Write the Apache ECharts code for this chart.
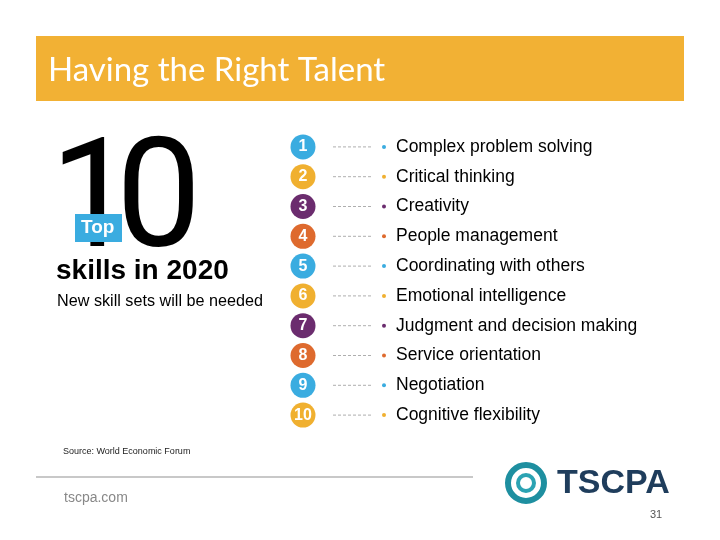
<!DOCTYPE html>
<html>
<head>
<meta charset="utf-8">
<script src="https://cdn.jsdelivr.net/npm/echarts@6/dist/echarts.min.js"></script>
<style>html,body{margin:0;padding:0;background:#fff}#main{width:720px;height:540px}</style>
</head>
<body>
<div id="main"></div>
<script>
const ranks = ['1', '2', '3', '4', '5', '6', '7', '8', '9', '10']
const skills = ['Complex problem solving', 'Critical thinking', 'Creativity', 'People management',
    'Coordinating with others', 'Emotional intelligence', 'Judgment and decision making',
    'Service orientation', 'Negotiation', 'Cognitive flexibility']
const rankColors = ['#3AACE0', '#F0B030', '#6B2C6E', '#DE6A2E', '#3AACE0',
    '#F0B030', '#6B2C6E', '#DE6A2E', '#3AACE0', '#F0B030']

const CIRCLE_X = 3.25
const DASH_FROM = 10.75
const DASH_TO = 20.75
const DOT_X = 23.5

const chart = echarts.init(document.getElementById('main'))

const font = 'Liberation Sans, Arial, sans-serif'

chart.setOption({
    animation: false,
    grid: { left: 290, width: 400, top: 132, bottom: 110 },
    xAxis: { type: 'value', min: 0, max: 100, show: false },
    yAxis: { type: 'category', data: ranks, inverse: true, show: false },
    graphic: [
        { type: 'rect', shape: { x: 36, y: 36, width: 648, height: 65 }, style: { fill: '#F2B134' } },
        { type: 'text', left: 48, top: 54, style: { text: 'Having the Right Talent', fill: '#fff', font: '33px Lato, "Open Sans", sans-serif' } },
        { type: 'text', x: 50, y: 132, style: { text: '1', fill: '#000', font: '152px Roboto, ' + font } },
        { type: 'text', x: 116, y: 132, style: { text: '0', fill: '#000', font: '152px Roboto, ' + font } },
        { type: 'rect', shape: { x: 75, y: 214, width: 47, height: 28 }, style: { fill: '#3AACE0' } },
        { type: 'text', x: 81, y: 218, style: { text: 'Top', fill: '#fff', font: 'bold 19px ' + font } },
        { type: 'text', x: 56, y: 257, style: { text: 'skills in 2020', fill: '#000', font: 'bold 28px ' + font } },
        { type: 'text', x: 57, y: 294, style: { text: 'New skill sets will be needed', fill: '#000', font: '16.2px ' + font } },
        { type: 'text', x: 63, y: 447, style: { text: 'Source: World Economic Forum', fill: '#222', font: '9px ' + font } },
        { type: 'line', shape: { x1: 36, y1: 477, x2: 473, y2: 477 }, style: { stroke: '#c8c8c8', lineWidth: 2 } },
        { type: 'text', x: 64, y: 491, style: { text: 'tscpa.com', fill: '#888', font: '14px ' + font } },
        { type: 'circle', shape: { cx: 526, cy: 483, r: 18 }, style: { fill: 'none', stroke: '#1E8FA0', lineWidth: 6 } },
        { type: 'circle', shape: { cx: 526, cy: 483, r: 8 }, style: { fill: 'none', stroke: '#2BA3B3', lineWidth: 4 } },
        { type: 'text', x: 557, y: 467, style: { text: 'TSCPA', fill: '#1F3D5C', font: 'bold 34px ' + font } },
        { type: 'text', x: 650, y: 509, style: { text: '31', fill: '#555', font: '11px ' + font } }
    ],
    series: [
        {
            type: 'custom',
            renderItem: (params, api) => {
                const a = api.coord([DASH_FROM, api.value(1)])
                const b = api.coord([DASH_TO, api.value(1)])
                return {
                    type: 'line',
                    shape: { x1: a[0], y1: a[1], x2: b[0], y2: b[1] },
                    style: { stroke: '#999', lineWidth: 0.8, lineDash: [3, 2] }
                }
            },
            data: ranks.map((r, i) => [0, i])
        },
        {
            type: 'scatter',
            symbol: 'circle',
            symbolSize: 4,
            data: ranks.map((r, i) => ({ value: [DOT_X, i], itemStyle: { color: rankColors[i], opacity: 1 } })),
            label: {
                show: true, position: 'right', distance: 10,
                formatter: p => skills[p.dataIndex],
                color: '#000', fontSize: 17.5, fontFamily: font
            }
        },
        {
            type: 'scatter',
            symbol: 'circle',
            symbolSize: 25,
            data: ranks.map((r, i) => ({ value: [CIRCLE_X, i], itemStyle: { color: rankColors[i], opacity: 1 } })),
            label: {
                show: true, position: 'inside',
                formatter: p => ranks[p.dataIndex],
                color: '#fff', fontSize: 16, fontWeight: 'bold', fontFamily: font
            }
        }
    ]
})
</script>
</body>
</html>
